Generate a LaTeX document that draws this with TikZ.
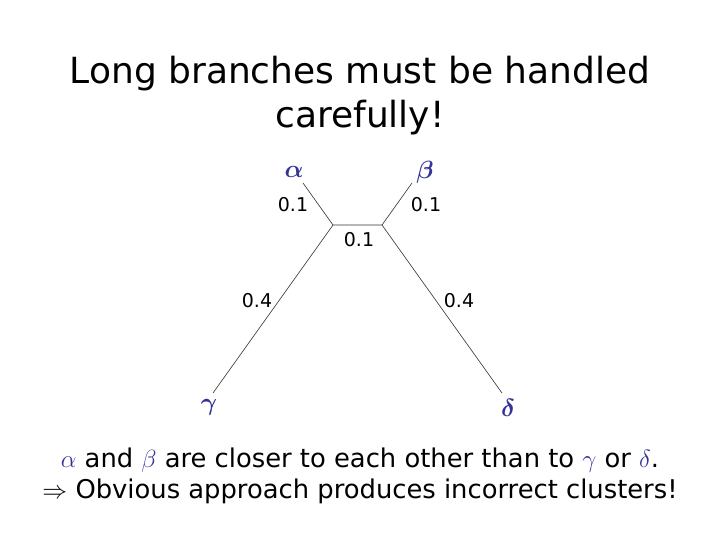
\documentclass[tikz,border=0pt]{standalone}
\usepackage{fontspec}
\setmainfont{DejaVu Sans}
\usepackage{amsmath,amssymb}
\usetikzlibrary{positioning}
\definecolor{greek}{HTML}{333399}

\begin{document}
\begin{tikzpicture}[
  x=1pt,y=-1pt,
  title/.style={font=\fontsize{36}{44}\selectfont,align=center},
  len/.style={font=\fontsize{19}{22}\selectfont},
  leaf/.style={font=\fontsize{27}{30}\selectfont\boldmath,text=greek},
  branch/.style={black!80,line width=0.6pt},
  note/.style={font=\fontsize{25.8}{31}\selectfont,align=center},
]
  \useasboundingbox (0,0) rectangle (720,540);

  % Title
  \node[title] (head) at (360,96) {Long branches must be handled\\carefully!};

  % Tree: internal nodes and leaf ends
  \coordinate (u) at (333,225);
  \coordinate (v) at (382,225);
  \coordinate (ea) at (303,183);
  \coordinate (eb) at (412,183);
  \coordinate (ec) at (213,393);
  \coordinate (ed) at (502,393);
  \draw[branch] (ea) -- (u) -- (v) -- (eb);
  \draw[branch] (ec) -- (u);
  \draw[branch] (v) -- (ed);

  % Leaf labels
  \node[leaf] (la) at (294,172) {$\alpha$};
  \node[leaf] (lb) at (425,172) {$\beta$};
  \node[leaf] (lc) at (209,407) {$\gamma$};
  \node[leaf] (ld) at (508,408) {$\delta$};

  % Branch lengths
  \node[len] (wa) at (293,205) {0.1};
  \node[len] (wb) at (426,205) {0.1};
  \node[len] (wm) at (359,240) {0.1};
  \node[len] (wc) at (257,301) {0.4};
  \node[len] (wd) at (459,301) {0.4};

  % Conclusion
  \node[note] (msg) at (360,476) {\textcolor{greek}{$\alpha$} and \textcolor{greek}{$\beta$} are closer to each other than to \textcolor{greek}{$\gamma$} or \textcolor{greek}{$\delta$}.\\$\Rightarrow$ Obvious approach produces incorrect clusters!};
\end{tikzpicture}
\end{document}
